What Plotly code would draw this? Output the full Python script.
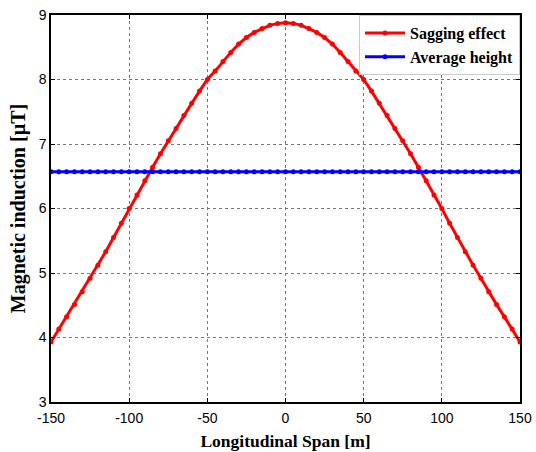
import plotly.graph_objects as go

span = list(range(-150, 151, 5))
left_half = [3.93, 4.13, 4.32, 4.51, 4.71, 4.92, 5.12, 5.33, 5.55, 5.77, 6.00,
             6.21, 6.43, 6.64, 6.85, 7.05, 7.24, 7.44, 7.63, 7.82, 8.00,
             8.13, 8.28, 8.42, 8.55, 8.65, 8.73, 8.79, 8.84, 8.87, 8.88]
sagging = left_half + left_half[-2::-1]
average = [6.57] * len(span)

x_ticks = [-150, -100, -50, 0, 50, 100, 150]
x_labels = ["-150", "-100", "-50", "0", "50", "100", "150"]
y_ticks = [3, 4, 5, 6, 7, 8, 9]

fig = go.Figure()
fig.add_trace(go.Scatter(x=span, y=sagging, mode="lines+markers", name="<b>Sagging effect</b>",
                         line=dict(color="#ff0000", width=3), marker=dict(color="#ff0000", size=5)))
fig.add_trace(go.Scatter(x=span, y=average, mode="lines+markers", name="<b>Average height</b>",
                         line=dict(color="#0000ff", width=3), marker=dict(color="#0000ff", size=5)))

axis_common = dict(showline=True, linecolor="black", linewidth=1.5, mirror="ticks",
                   ticks="inside", ticklen=4, tickcolor="black", automargin=False,
                   showgrid=True, gridcolor="#777777", griddash="dot", gridwidth=1,
                   zeroline=False, tickfont=dict(family="Liberation Sans, Arial", size=14, color="black"))

fig.update_xaxes(range=[-150, 150], tickvals=x_ticks, ticktext=x_labels, ticklabelstandoff=2,
                 title=dict(text="<b>Longitudinal Span [m]</b>", standoff=10,
                            font=dict(family="Liberation Serif, Times New Roman", size=17.5, color="black")),
                 **axis_common)
fig.update_yaxes(range=[3, 9], tickvals=y_ticks,
                 title=dict(text="<b>Magnetic induction [µT]</b>", standoff=8,
                            font=dict(family="Liberation Serif, Times New Roman", size=20, color="black")),
                 **axis_common)

fig.update_layout(
    width=536, height=452,
    margin=dict(l=51, r=16, t=15, b=50),
    paper_bgcolor="white", plot_bgcolor="white",
    font=dict(family="Liberation Serif, Times New Roman", color="black"),
    legend=dict(x=1, y=1, xanchor="right", yanchor="top",
                bgcolor="white", bordercolor="#cccccc", borderwidth=1,
                font=dict(family="Liberation Serif, Times New Roman", size=16, color="black"),
                tracegroupgap=0, itemwidth=40),
    showlegend=True,
)

fig.write_html("out.html")
